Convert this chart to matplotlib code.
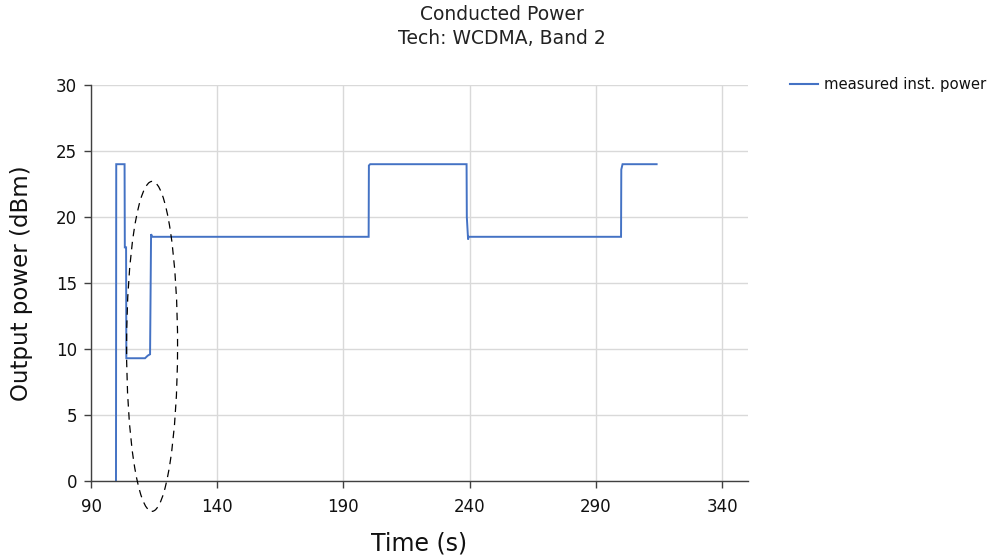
import matplotlib
matplotlib.use("Agg")
import matplotlib.pyplot as plt
from matplotlib.patches import Ellipse
from matplotlib.lines import Line2D

# Measured instantaneous output power vs. time (vertices of the trace)
time_s = [99.9, 100.0, 103.3, 103.4, 103.9, 104.0, 111.4, 112.5, 113.4, 113.8,
          114.3, 200.0, 200.1, 200.6, 238.8, 238.9, 239.4, 239.6, 300.0, 300.1,
          300.6, 314.1]
power_dbm = [0.0, 24.0, 24.0, 17.7, 17.7, 9.3, 9.3, 9.5, 9.6, 18.7,
             18.5, 18.5, 23.9, 24.0, 24.0, 20.0, 18.3, 18.5, 18.5, 23.6,
             24.0, 24.0]

x_ticks = [90, 140, 190, 240, 290, 340]
y_ticks = [0, 5, 10, 15, 20, 25, 30]
series_label = "measured inst. power"
title_lines = ["Conducted Power", "Tech: WCDMA, Band 2"]

W, H = 992, 558
fig = plt.figure(figsize=(W / 100, H / 100), dpi=100)
ax = fig.add_axes([91 / W, 1 - 481 / H, (748 - 91) / W, (481 - 85) / H])

line_color = "#4472C4"
ax.plot(time_s, power_dbm, color=line_color, lw=1.4, solid_joinstyle="miter")

ax.set_xlim(90, 350.3)
ax.set_ylim(0, 30)
ax.set_xticks(x_ticks)
ax.set_yticks(y_ticks)
ax.grid(True, color="#d9d9d9", lw=1.0)
ax.set_axisbelow(True)
for s in ("top", "right"):
    ax.spines[s].set_visible(False)
for s in ("left", "bottom"):
    ax.spines[s].set_color("#404040")
    ax.spines[s].set_linewidth(1.0)
ax.tick_params(axis="both", colors="#404040", labelcolor="#111111",
               labelsize=12, length=5, width=1.0)
ax.tick_params(axis="y", pad=5)
ax.tick_params(axis="x", pad=7)

ax.set_xlabel("Time (s)", fontsize=17, color="#111111")
ax.set_ylabel("Output power (dBm)", fontsize=16.5, color="#111111")
ax.xaxis.set_label_coords((419 - 91) / (748 - 91), -(543 - 481) / (481 - 85))
ax.yaxis.set_label_coords(-(91 - 22) / (748 - 91), 0.5)
ax.xaxis.label.set_va("center")
ax.yaxis.label.set_va("center")

# Dashed ellipse highlighting the initial power transient
ell = Ellipse((114.2, 10.2), width=20.2, height=25.0, angle=-0.6,
              fill=False, edgecolor="black", lw=0.9, ls=(0, (6, 4.5)),
              clip_on=False, zorder=5)
ax.add_patch(ell)

fig.text(502 / W, 1 - 15 / H, title_lines[0], ha="center", va="center",
         fontsize=13.5, color="#222222")
fig.text(502 / W, 1 - 39 / H, title_lines[1], ha="center", va="center",
         fontsize=13.5, color="#222222")

# Legend entry drawn at the top right
fig.add_artist(Line2D([790 / W, 818 / W], [1 - 84 / H, 1 - 84 / H],
                      color=line_color, lw=1.5, transform=fig.transFigure))
fig.text(824 / W, 1 - 84 / H, series_label, ha="left", va="center",
         fontsize=10.7, color="#111111")

fig.savefig("out.png", dpi=100)
